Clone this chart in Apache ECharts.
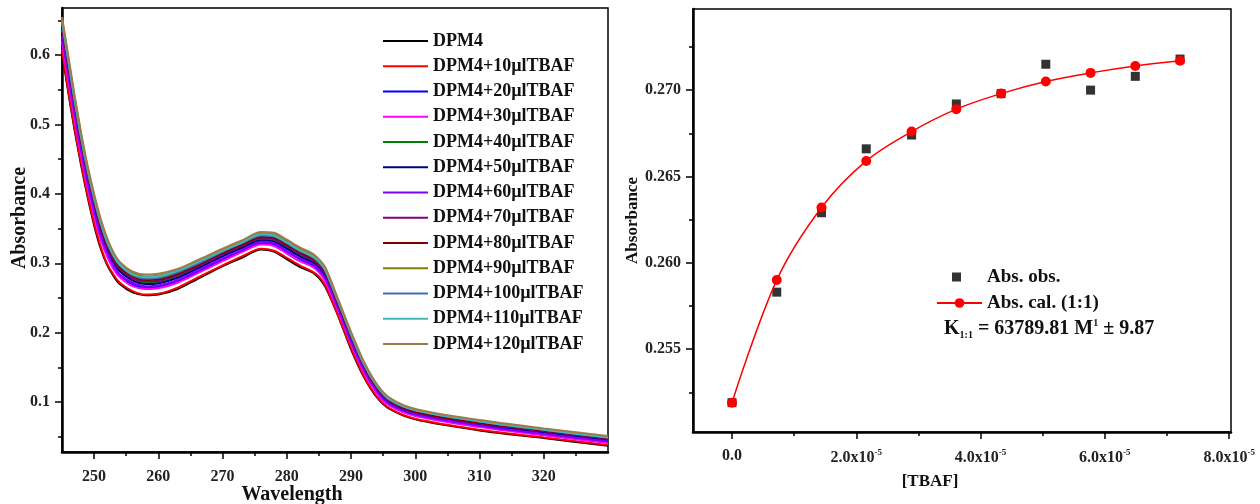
<!DOCTYPE html>
<html>
<head>
<meta charset="utf-8">
<script src="https://cdn.jsdelivr.net/npm/echarts@6/dist/echarts.min.js"></script>
<style>
  html, body { margin: 0; padding: 0; background: #fff; }
  #chart { width: 1260px; height: 504px; }
</style>
</head>
<body>
<div id="chart"></div>
<script>
// ---- UV-Vis titration spectra (left panel) ----
const wavelength = [245, 246, 247, 248, 249, 250, 251, 252, 253, 254, 256, 258, 260, 263, 266, 270, 273, 276, 278, 280, 282, 284, 285, 286, 288, 290, 292, 294, 296, 300, 310, 320, 330];

const spectrumNames = ['DPM4', 'DPM4+10µlTBAF', 'DPM4+20µlTBAF', 'DPM4+30µlTBAF', 'DPM4+40µlTBAF', 'DPM4+50µlTBAF', 'DPM4+60µlTBAF', 'DPM4+70µlTBAF', 'DPM4+80µlTBAF', 'DPM4+90µlTBAF', 'DPM4+100µlTBAF', 'DPM4+110µlTBAF', 'DPM4+120µlTBAF'];
const spectrumColors = ['#000000', '#ff0000', '#0000ff', '#ff00ff', '#008000', '#000080', '#8000ff', '#800080', '#800000', '#808000', '#3f6fb0', '#40b8b8', '#a07a4a'];

const absDPM4   = [0.605, 0.545, 0.490, 0.440, 0.395, 0.355, 0.322, 0.298, 0.282, 0.270, 0.258, 0.254, 0.255, 0.263, 0.277, 0.296, 0.308, 0.320, 0.317, 0.306, 0.295, 0.287, 0.279, 0.266, 0.224, 0.176, 0.136, 0.107, 0.090, 0.075, 0.059, 0.048, 0.037];
const absTBAF10 = [0.608, 0.548, 0.493, 0.443, 0.398, 0.358, 0.325, 0.300, 0.284, 0.272, 0.260, 0.255, 0.256, 0.265, 0.279, 0.297, 0.310, 0.321, 0.318, 0.308, 0.297, 0.288, 0.281, 0.268, 0.225, 0.178, 0.137, 0.108, 0.091, 0.076, 0.060, 0.049, 0.038];
const absTBAF20 = [0.624, 0.565, 0.509, 0.458, 0.412, 0.372, 0.338, 0.313, 0.295, 0.282, 0.269, 0.265, 0.266, 0.274, 0.287, 0.305, 0.318, 0.329, 0.327, 0.317, 0.306, 0.297, 0.289, 0.277, 0.233, 0.186, 0.144, 0.114, 0.096, 0.081, 0.065, 0.053, 0.042];
const absTBAF30 = [0.620, 0.561, 0.505, 0.454, 0.409, 0.369, 0.335, 0.310, 0.292, 0.280, 0.267, 0.263, 0.264, 0.272, 0.285, 0.303, 0.316, 0.327, 0.325, 0.314, 0.303, 0.295, 0.287, 0.274, 0.231, 0.184, 0.143, 0.113, 0.095, 0.080, 0.064, 0.052, 0.041];
const absTBAF40 = [0.636, 0.578, 0.521, 0.469, 0.423, 0.383, 0.349, 0.322, 0.303, 0.290, 0.277, 0.272, 0.273, 0.281, 0.294, 0.311, 0.324, 0.335, 0.333, 0.323, 0.312, 0.303, 0.296, 0.283, 0.239, 0.192, 0.150, 0.119, 0.100, 0.084, 0.068, 0.057, 0.046];
const absTBAF50 = [0.633, 0.574, 0.518, 0.466, 0.420, 0.380, 0.346, 0.320, 0.301, 0.288, 0.275, 0.270, 0.271, 0.279, 0.292, 0.310, 0.322, 0.333, 0.331, 0.321, 0.310, 0.301, 0.294, 0.281, 0.237, 0.190, 0.148, 0.118, 0.099, 0.083, 0.067, 0.056, 0.045];
const absTBAF60 = [0.628, 0.569, 0.513, 0.461, 0.415, 0.375, 0.341, 0.316, 0.297, 0.284, 0.272, 0.267, 0.268, 0.276, 0.289, 0.307, 0.319, 0.331, 0.329, 0.318, 0.307, 0.299, 0.291, 0.278, 0.235, 0.187, 0.146, 0.116, 0.097, 0.082, 0.066, 0.054, 0.043];
const absTBAF70 = [0.639, 0.581, 0.524, 0.472, 0.426, 0.386, 0.351, 0.325, 0.305, 0.292, 0.278, 0.274, 0.275, 0.283, 0.295, 0.313, 0.325, 0.337, 0.335, 0.325, 0.314, 0.305, 0.297, 0.285, 0.240, 0.193, 0.151, 0.120, 0.101, 0.085, 0.069, 0.058, 0.047];
const absTBAF80 = [0.643, 0.585, 0.528, 0.475, 0.429, 0.389, 0.354, 0.327, 0.308, 0.294, 0.281, 0.276, 0.277, 0.285, 0.297, 0.315, 0.327, 0.338, 0.337, 0.327, 0.316, 0.307, 0.299, 0.287, 0.242, 0.195, 0.153, 0.121, 0.102, 0.086, 0.070, 0.059, 0.048];
const absTBAF90 = [0.652, 0.594, 0.537, 0.484, 0.437, 0.397, 0.362, 0.334, 0.314, 0.300, 0.286, 0.281, 0.282, 0.290, 0.302, 0.319, 0.331, 0.343, 0.342, 0.332, 0.321, 0.312, 0.304, 0.292, 0.246, 0.199, 0.157, 0.125, 0.105, 0.089, 0.073, 0.061, 0.050];
const absTBAF100 = [0.647, 0.589, 0.532, 0.479, 0.432, 0.392, 0.358, 0.330, 0.310, 0.297, 0.283, 0.278, 0.279, 0.287, 0.299, 0.317, 0.329, 0.340, 0.339, 0.329, 0.318, 0.309, 0.301, 0.289, 0.244, 0.197, 0.154, 0.123, 0.103, 0.088, 0.072, 0.060, 0.049];
const absTBAF110 = [0.649, 0.592, 0.534, 0.481, 0.435, 0.395, 0.360, 0.332, 0.312, 0.298, 0.284, 0.280, 0.281, 0.289, 0.301, 0.318, 0.330, 0.342, 0.340, 0.330, 0.319, 0.310, 0.303, 0.290, 0.245, 0.198, 0.155, 0.124, 0.104, 0.088, 0.072, 0.060, 0.049];
const absTBAF120 = [0.655, 0.598, 0.540, 0.487, 0.440, 0.400, 0.365, 0.337, 0.316, 0.302, 0.288, 0.284, 0.285, 0.292, 0.304, 0.321, 0.333, 0.345, 0.344, 0.334, 0.323, 0.314, 0.306, 0.294, 0.248, 0.201, 0.158, 0.126, 0.106, 0.090, 0.074, 0.062, 0.051];

const spectra = [absDPM4, absTBAF10, absTBAF20, absTBAF30, absTBAF40, absTBAF50, absTBAF60, absTBAF70, absTBAF80, absTBAF90, absTBAF100, absTBAF110, absTBAF120];

const wlTicks = [250, 260, 270, 280, 290, 300, 310, 320];
const wlMinorTicks = [255, 265, 275, 285, 295, 305, 315, 325];
const absTicks = [0.1, 0.2, 0.3, 0.4, 0.5, 0.6];
const absMinorTicks = [0.05, 0.15, 0.25, 0.35, 0.45, 0.55, 0.65];

// ---- 1:1 binding fit (right panel) ----
const tbafConc = [0, 0.72e-5, 1.44e-5, 2.16e-5, 2.89e-5, 3.61e-5, 4.33e-5, 5.05e-5, 5.77e-5, 6.49e-5, 7.21e-5];
const absObserved = [0.2519, 0.2583, 0.2629, 0.2666, 0.2674, 0.2692, 0.2698, 0.2715, 0.2700, 0.2708, 0.2718];
const absCalculated = [0.2519, 0.2590, 0.2632, 0.2659, 0.2676, 0.2689, 0.2698, 0.2705, 0.2710, 0.2714, 0.2717];

const concTicks = [0, 2e-5, 4e-5, 6e-5, 8e-5];
const concMinorTicks = [1e-5, 3e-5, 5e-5, 7e-5];
const fitTicks = [0.255, 0.260, 0.265, 0.270];
const fitMinorTicks = [0.2525, 0.2575, 0.2625, 0.2675, 0.2725];

const SERIF = 'Liberation Serif';
const labelFont = { fontFamily: SERIF, fontWeight: 'bold', fontSize: 16, color: '#222' };
const nameFont = { fontFamily: SERIF, fontWeight: 'bold', color: '#111' };

function minorAxis(gridIndex, position, min, max, values) {
  return {
    type: 'value', gridIndex, position, min, max,
    axisLine: { show: false, onZero: false },
    axisTick: { show: true, customValues: values, length: 4, lineStyle: { color: '#000', width: 1.5 } },
    axisLabel: { show: false },
    splitLine: { show: false }
  };
}

const chart = echarts.init(document.getElementById('chart'), null, { renderer: 'canvas' });

const spectrumSeries = spectra.map((vals, i) => ({
  name: spectrumNames[i],
  type: 'line',
  xAxisIndex: 0, yAxisIndex: 0,
  data: wavelength.map((w, j) => [w, vals[j]]),
  showSymbol: false, symbol: 'none',
  smooth: 0.3,
  lineStyle: { width: 2, color: spectrumColors[i] },
  itemStyle: { color: spectrumColors[i] },
  z: 2 + i
}));

chart.setOption({
  animation: false,
  backgroundColor: '#fff',
  grid: [
    { left: 62, top: 8, width: 546, height: 444, show: true, borderColor: '#000', borderWidth: 1.5, outerBoundsMode: 'none', containLabel: false },
    { left: 693, top: 9, width: 538, height: 423, show: true, borderColor: '#000', borderWidth: 1.5, outerBoundsMode: 'none', containLabel: false }
  ],
  xAxis: [
    {
      type: 'value', gridIndex: 0, position: 'bottom', min: 245, max: 330,
      name: 'Wavelength', nameLocation: 'middle', nameGap: 33, nameMoveOverlap: false,
      nameTextStyle: Object.assign({ fontSize: 20, padding: [0, 86, 0, 0] }, nameFont),
      axisLine: { onZero: false, lineStyle: { color: '#000', width: 2.5 } },
      axisTick: { customValues: wlTicks, length: 7, lineStyle: { color: '#000', width: 1.5 } },
      axisLabel: Object.assign({ customValues: wlTicks, margin: 17 }, labelFont),
      splitLine: { show: false }
    },
    minorAxis(0, 'bottom', 245, 330, wlMinorTicks),
    {
      type: 'value', gridIndex: 1, position: 'bottom', min: -0.628e-5, max: 8.03e-5,
      name: '[TBAF]', nameLocation: 'middle', nameGap: 41,
      nameTextStyle: Object.assign({ fontSize: 17, padding: [0, 64, 0, 0] }, nameFont),
      axisLine: { onZero: false, lineStyle: { color: '#000', width: 2.5 } },
      axisTick: { customValues: concTicks, length: 7, lineStyle: { color: '#000', width: 1.5 } },
      axisLabel: {
        customValues: concTicks, margin: 16,
        formatter: v => Math.abs(v) < 1e-12 ? '{n|0.0}' : '{n|' + (v * 1e5).toFixed(1) + 'x10}{s|-5}',
        rich: {
          n: labelFont,
          s: { fontFamily: SERIF, fontWeight: 'bold', fontSize: 9, color: '#222', padding: [0, 0, 10, 0] }
        }
      },
      splitLine: { show: false }
    },
    minorAxis(1, 'bottom', -0.628e-5, 8.03e-5, concMinorTicks)
  ],
  yAxis: [
    {
      type: 'value', gridIndex: 0, position: 'left', min: 0.028, max: 0.668,
      name: 'Absorbance', nameLocation: 'middle', nameGap: 32, nameMoveOverlap: false,
      nameTextStyle: Object.assign({ fontSize: 20, padding: [0, 0, 0, 24] }, nameFont),
      axisLine: { onZero: false, lineStyle: { color: '#000', width: 2.5 } },
      axisTick: { customValues: absTicks, length: 7, lineStyle: { color: '#000', width: 1.5 } },
      axisLabel: Object.assign({ customValues: absTicks, margin: 12, formatter: v => v.toFixed(1) }, labelFont),
      splitLine: { show: false }
    },
    minorAxis(0, 'left', 0.028, 0.668, absMinorTicks),
    {
      type: 'value', gridIndex: 1, position: 'left', min: 0.2502, max: 0.2747,
      name: 'Absorbance', nameLocation: 'middle', nameGap: 52,
      nameTextStyle: Object.assign({ fontSize: 17 }, nameFont),
      axisLine: { onZero: false, lineStyle: { color: '#000', width: 2.5 } },
      axisTick: { customValues: fitTicks, length: 7, lineStyle: { color: '#000', width: 1.5 } },
      axisLabel: Object.assign({ customValues: fitTicks, margin: 12, formatter: v => v.toFixed(3) }, labelFont),
      splitLine: { show: false }
    },
    minorAxis(1, 'left', 0.2502, 0.2747, fitMinorTicks)
  ],
  legend: [
    {
      data: spectrumNames, orient: 'vertical', left: 383, top: 32, padding: 0,
      icon: 'rect', itemWidth: 45, itemHeight: 2, itemGap: 7.25,
      selectedMode: false,
      textStyle: { fontFamily: SERIF, fontWeight: 'bold', fontSize: 18, lineHeight: 18, color: '#111' }
    },
    {
      data: ['Abs. obs.'], orient: 'vertical', left: 952, top: 267.5, padding: 0,
      icon: 'rect', itemWidth: 9, itemHeight: 9, selectedMode: false,
      textStyle: { fontFamily: SERIF, fontWeight: 'bold', fontSize: 19, lineHeight: 19, color: '#111', padding: [0, 0, 0, 21] }
    },
    {
      data: ['Abs. cal. (1:1)'], orient: 'vertical', left: 936, top: 293.5, padding: 0,
      itemWidth: 45, itemHeight: 12, selectedMode: false,
      textStyle: { fontFamily: SERIF, fontWeight: 'bold', fontSize: 19, lineHeight: 19, color: '#111' }
    }
  ],
  graphic: [
    {
      type: 'text', left: 944, top: 318,
      style: {
        text: '{t|K}{sub|1:1}{t| = 63789.81 M}{sup|1}{t| ± 9.87}',
        rich: {
          t: { fontFamily: SERIF, fontWeight: 'bold', fontSize: 20, fill: '#111' },
          sub: { fontFamily: SERIF, fontWeight: 'bold', fontSize: 10, fill: '#111', padding: [12, 0, 0, 0] },
          sup: { fontFamily: SERIF, fontWeight: 'bold', fontSize: 10, fill: '#111', padding: [0, 0, 12, 0] }
        }
      }
    }
  ],
  series: spectrumSeries.concat([
    {
      name: 'Abs. obs.', type: 'scatter', xAxisIndex: 2, yAxisIndex: 2,
      data: tbafConc.map((c, i) => [c, absObserved[i]]),
      symbol: 'rect', symbolSize: 9,
      itemStyle: { color: '#000' }, z: 3
    },
    {
      name: 'Abs. cal. (1:1)', type: 'line', xAxisIndex: 2, yAxisIndex: 2,
      data: tbafConc.map((c, i) => [c, absCalculated[i]]),
      symbol: 'circle', symbolSize: 10, showSymbol: true, smooth: 0.35,
      lineStyle: { color: '#ff0000', width: 1.5 },
      itemStyle: { color: '#ff0000' }, z: 4
    }
  ])
});
</script>
</body>
</html>
